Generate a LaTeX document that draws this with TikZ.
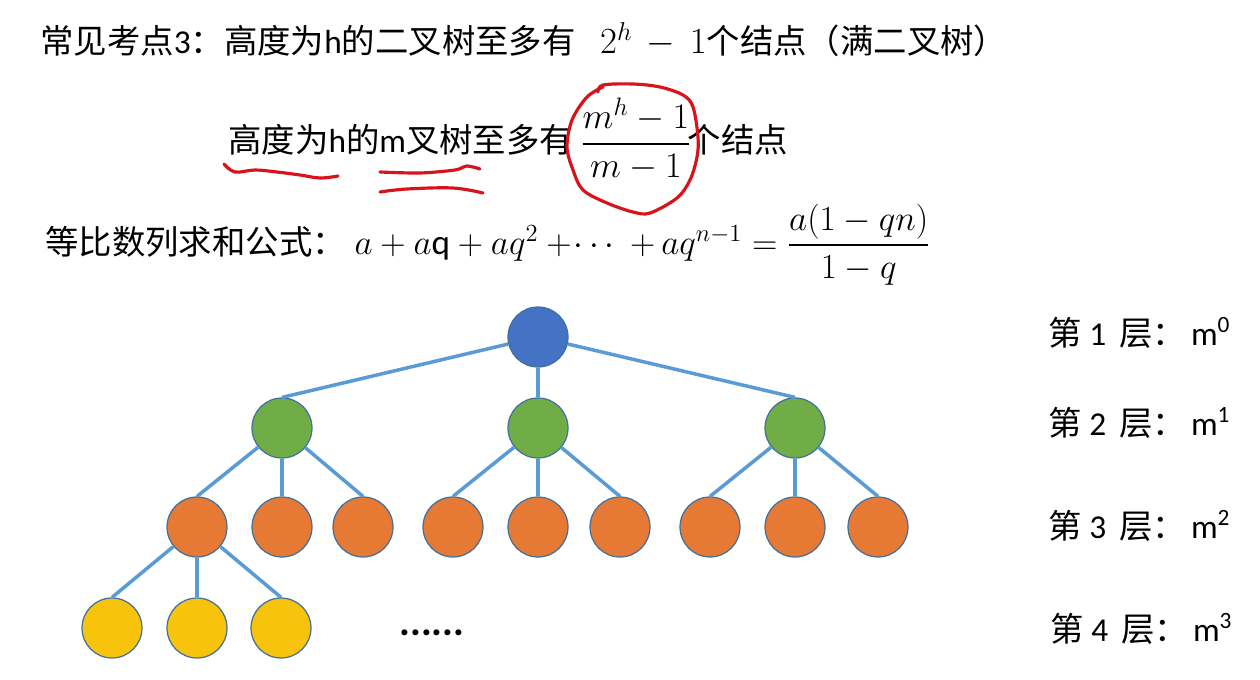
\RequirePackage{fix-cm}
\documentclass[tikz,border=0pt]{standalone}
\usepackage{amsmath}
\usepackage{fontspec}
\setmainfont{Carlito}
\newfontfamily\cjk{Noto Sans CJK SC}
\usepackage{xcolor}
\usepackage{tikz}
\definecolor{rootblue}{HTML}{4472C4}
\definecolor{leafgreen}{HTML}{70AD47}
\definecolor{midorange}{HTML}{E67A35}
\definecolor{lowyellow}{HTML}{F8C30D}
\definecolor{ringline}{HTML}{41719C}
\definecolor{linkblue}{HTML}{5B9BD5}
\definecolor{penred}{HTML}{D9121C}

\begin{document}
\begin{tikzpicture}[x=0.02cm, y=-0.02cm,
  tnode/.style={circle, draw=ringline, line width=0.7pt, minimum size=1.2cm, inner sep=0pt},
  lvone/.style={tnode, fill=rootblue},
  lvtwo/.style={tnode, fill=leafgreen},
  lvthree/.style={tnode, fill=midorange},
  lvfour/.style={tnode, fill=lowyellow},
  link/.style={linkblue, line width=2pt},
  txt/.style={anchor=base west, inner sep=0pt, font=\fontsize{19}{23}\selectfont},
  pen/.style={draw=penred, line width=1.8pt, line cap=round, line join=round},
]
\fill[white] (0,0) rectangle (1260,679);
\useasboundingbox (0,0) rectangle (1260,679);

% Top: the three lines of text
\node[txt] (title) at (40,54) {{\cjk 常见考点}3{\cjk ：高度为}h{\cjk 的二叉树至多有}\hspace{14pt}{\fontsize{21}{25}\selectfont $2^h \,-\, 1$}{\cjk 个结点（满二叉树）}};
\node[txt] (mtree) at (228,153) {{\cjk 高度为}h{\cjk 的}m{\cjk 叉树至多有} {\fontsize{20.5}{24}\selectfont $\dfrac{m^h-1}{m-1}$}\hspace{-2pt}{\cjk 个结点}};
\node[txt] (gsum) at (45,254) {{\cjk 等比数列求和公式：}\hspace{5pt}{\fontsize{20}{24}\selectfont $a + a\mathrm{q} + aq^2 +\!\cdots\; {+}\,aq^{n-1} = \dfrac{a(1-qn)}{1-q}$}};

% Red pen marks
\draw[pen] plot[smooth, tension=0.6] coordinates {(224,164) (235,172) (255,170) (277,172) (300,175) (320,178) (338,176)};
\draw[pen] plot[smooth, tension=0.5] coordinates {(380,172) (420,173) (455,170) (467,166) (480,169)};
\draw[pen] plot[smooth, tension=0.6] coordinates {(380,192) (407,189) (453,188) (483,193)};
\draw[pen] plot[smooth, tension=0.55] coordinates {(598,92) (603,85) (633,84) (660,87) (683,95) (693,107) (698,137) (697,157) (690,180) (677,198) (650,213) (633,212) (607,203) (583,190) (573,170) (567,147) (572,120) (587,97) (603,87)};

% Tree
\node[lvone] (r) at (538,337) {};
\foreach \i/\x in {1/282,2/538,3/795}
  \node[lvtwo] (a\i) at (\x,428) {};
\foreach \i/\x in {1/197,2/282,3/363,4/453,5/538,6/620,7/710,8/795,9/878}
  \node[lvthree] (b\i) at (\x,527) {};
\foreach \i/\x in {1/112,2/197,3/281}
  \node[lvfour] (c\i) at (\x,628) {};

\foreach \i in {1,2,3} \draw[link] (r) -- (a\i.north);
\foreach \p/\c in {a1/b1,a1/b2,a1/b3,a2/b4,a2/b5,a2/b6,a3/b7,a3/b8,a3/b9,b1/c1,b1/c2,b1/c3}
  \draw[link] (\p) -- (\c.north);

\node[inner sep=0pt, font=\fontsize{23}{26}\selectfont\bfseries] (dots) at (432,633) {......};

% Right: level counts
\node[txt] (l1) at (1048,345) {{\cjk 第} 1\hspace{3pt} {\cjk 层：}\hspace{3pt}m\textsuperscript{0}};
\node[txt] (l2) at (1048,435) {{\cjk 第} 2\hspace{3pt} {\cjk 层：}\hspace{3pt}m\textsuperscript{1}};
\node[txt] (l3) at (1048,538) {{\cjk 第} 3\hspace{3pt} {\cjk 层：}\hspace{3pt}m\textsuperscript{2}};
\node[txt] (l4) at (1050,641) {{\cjk 第} 4\hspace{3pt} {\cjk 层：}\hspace{3pt}m\textsuperscript{3}};
\end{tikzpicture}
\end{document}
